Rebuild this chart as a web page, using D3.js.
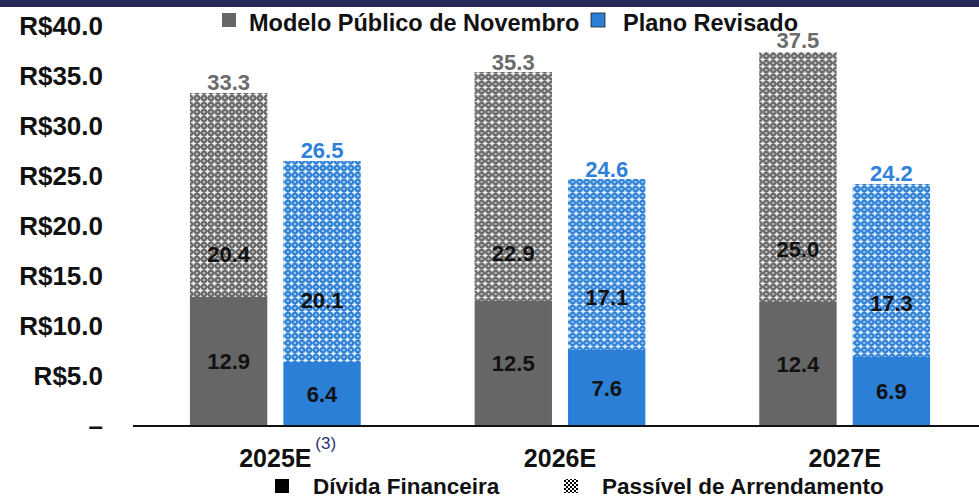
<!DOCTYPE html>
<html>
<head>
<meta charset="utf-8">
<script src="https://cdn.jsdelivr.net/npm/d3@7"></script>
<style>
	body { margin: 0; background: white; }
	text { font-family: "Liberation Sans", Arial, sans-serif; font-weight: bold; }
</style>
</head>
<body>
<svg id="chart" width="979" height="498"></svg>
<script>
// data
var years = ["2025E", "2026E", "2027E"];
var series = ["Modelo Público de Novembro", "Plano Revisado"];
var divida = [[12.9, 12.5, 12.4], [6.4, 7.6, 6.9]];
var arrendamento = [[20.4, 22.9, 25.0], [20.1, 17.1, 17.3]];
var totais = [[33.3, 35.3, 37.5], [26.5, 24.6, 24.2]];
var yTicks = [0, 5, 10, 15, 20, 25, 30, 35, 40];

var solid = ["#666666", "#2b7fd6"];
var topColor = ["#6b6b6b", "#2f80d9"];

var svg = d3.select("#chart");
var defs = svg.append("defs");

// star-dotted fill for the lease part
function makePattern(id, base) {
	var p = defs.append("pattern")
		.attr("id", id)
		.attr("patternUnits", "userSpaceOnUse")
		.attr("width", 7)
		.attr("height", 7);
	p.append("rect").attr("width", 7).attr("height", 7).attr("fill", base);
	p.append("path")
		.attr("d", "M3.5,0.4L4.5,2.5L6.6,3.5L4.5,4.5L3.5,6.6L2.5,4.5L0.4,3.5L2.5,2.5Z")
		.attr("fill", "white").attr("opacity", 0.9);
	[[0, 0], [7, 0], [0, 7], [7, 7]].forEach(function (c) {
		p.append("circle").attr("cx", c[0]).attr("cy", c[1]).attr("r", 1.3).attr("fill", "white").attr("opacity", 0.55);
	});
}
makePattern("pat0", solid[0]);
makePattern("pat1", solid[1]);

var check = defs.append("pattern")
	.attr("id", "check")
	.attr("patternUnits", "userSpaceOnUse")
	.attr("width", 4)
	.attr("height", 4);
check.append("rect").attr("width", 4).attr("height", 4).attr("fill", "white");
check.append("rect").attr("width", 2).attr("height", 2).attr("fill", "black");
check.append("rect").attr("x", 2).attr("y", 2).attr("width", 2).attr("height", 2).attr("fill", "black");

// header strip
svg.append("rect").attr("x", 0).attr("y", 0).attr("width", 979).attr("height", 7).attr("fill", "#262857");

var x0 = d3.scaleBand().domain(years).range([133, 987]).paddingInner(0.4).paddingOuter(0.2);
var x1 = d3.scaleBand().domain([0, 1]).range([0, x0.bandwidth()]).paddingInner(0.172);
var y = d3.scaleLinear().domain([0, 40]).range([426, 26]);

// y labels
svg.append("g").selectAll("text")
	.data(yTicks)
	.enter().append("text")
	.attr("x", 103)
	.attr("y", function (d) { return y(d); })
	.attr("dy", "0.36em")
	.attr("text-anchor", "end")
	.style("font-size", "26px")
	.attr("fill", "#111")
	.text(function (d) { return d === 0 ? "–" : "R$" + d.toFixed(1); });

var groups = svg.append("g").selectAll("g")
	.data(years)
	.enter().append("g")
	.attr("transform", function (d) { return "translate(" + x0(d) + ",0)"; });

groups.each(function (yr, i) {
	var g = d3.select(this);
	[0, 1].forEach(function (s) {
		var bx = x1(s), bw = x1.bandwidth();
		var deb = divida[s][i], arr = arrendamento[s][i];
		g.append("rect")
			.attr("x", bx).attr("width", bw)
			.attr("y", y(deb)).attr("height", y(0) - y(deb))
			.attr("fill", solid[s]);
		g.append("rect")
			.attr("x", bx).attr("width", bw)
			.attr("y", y(deb + arr)).attr("height", y(deb) - y(deb + arr))
			.attr("fill", "url(#pat" + s + ")");

		g.append("text")
			.attr("x", bx + bw / 2)
			.attr("y", y(deb / 2))
			.attr("dy", "0.36em")
			.attr("text-anchor", "middle")
			.style("font-size", "22px")
			.attr("fill", "#111")
			.text(deb.toFixed(1));

		g.append("text")
			.attr("x", bx + bw / 2)
			.attr("y", y(deb + arr * (s === 0 ? 0.21 : 0.31)))
			.attr("dy", "0.36em")
			.attr("text-anchor", "middle")
			.style("font-size", "22px")
			.attr("fill", "#111")
			.text(arr.toFixed(1));

		g.append("text")
			.attr("x", bx + bw / 2)
			.attr("y", y(totais[s][i]) - 3)
			.attr("text-anchor", "middle")
			.style("font-size", "22px")
			.attr("fill", topColor[s])
			.text(totais[s][i].toFixed(1));
	});
});

// baseline
svg.append("line")
	.attr("x1", 133).attr("x2", 979)
	.attr("y1", y(0)).attr("y2", y(0))
	.attr("stroke", "#111").attr("stroke-width", 2);

// category labels
svg.append("g").selectAll("text")
	.data(years)
	.enter().append("text")
	.attr("x", function (d) { return x0(d) + x0.bandwidth() / 2; })
	.attr("y", 467)
	.attr("text-anchor", "middle")
	.style("font-size", "25px")
	.attr("fill", "#111")
	.text(function (d) { return d; });

svg.append("text")
	.attr("x", x0(years[0]) + x0.bandwidth() / 2 + 40)
	.attr("y", 449)
	.style("font-size", "17px")
	.style("font-weight", "normal")
	.attr("fill", "#2e3273")
	.text("(3)");

// top legend
var legTop = [
	{ x: 222, fill: solid[0], stroke: "none", tx: 249, label: series[0] },
	{ x: 591, fill: solid[1], stroke: "#222", tx: 623, label: series[1] }
];
legTop.forEach(function (l) {
	svg.append("rect").attr("x", l.x).attr("y", 13).attr("width", 14).attr("height", 14)
		.attr("fill", l.fill).attr("stroke", l.stroke).attr("stroke-width", 0.8);
	svg.append("text").attr("x", l.tx).attr("y", 31)
		.style("font-size", "23.5px").attr("fill", "#111").text(l.label);
});

// bottom legend
var legBot = [
	{ x: 275, fill: "#000", tx: 313, label: "Dívida Financeira" },
	{ x: 564, fill: "url(#check)", tx: 602, label: "Passível de Arrendamento" }
];
legBot.forEach(function (l) {
	svg.append("rect").attr("x", l.x).attr("y", 479).attr("width", 14).attr("height", 14).attr("fill", l.fill);
	svg.append("text").attr("x", l.tx).attr("y", 494)
		.style("font-size", "22.5px").attr("fill", "#111").text(l.label);
});
</script>
</body>
</html>
